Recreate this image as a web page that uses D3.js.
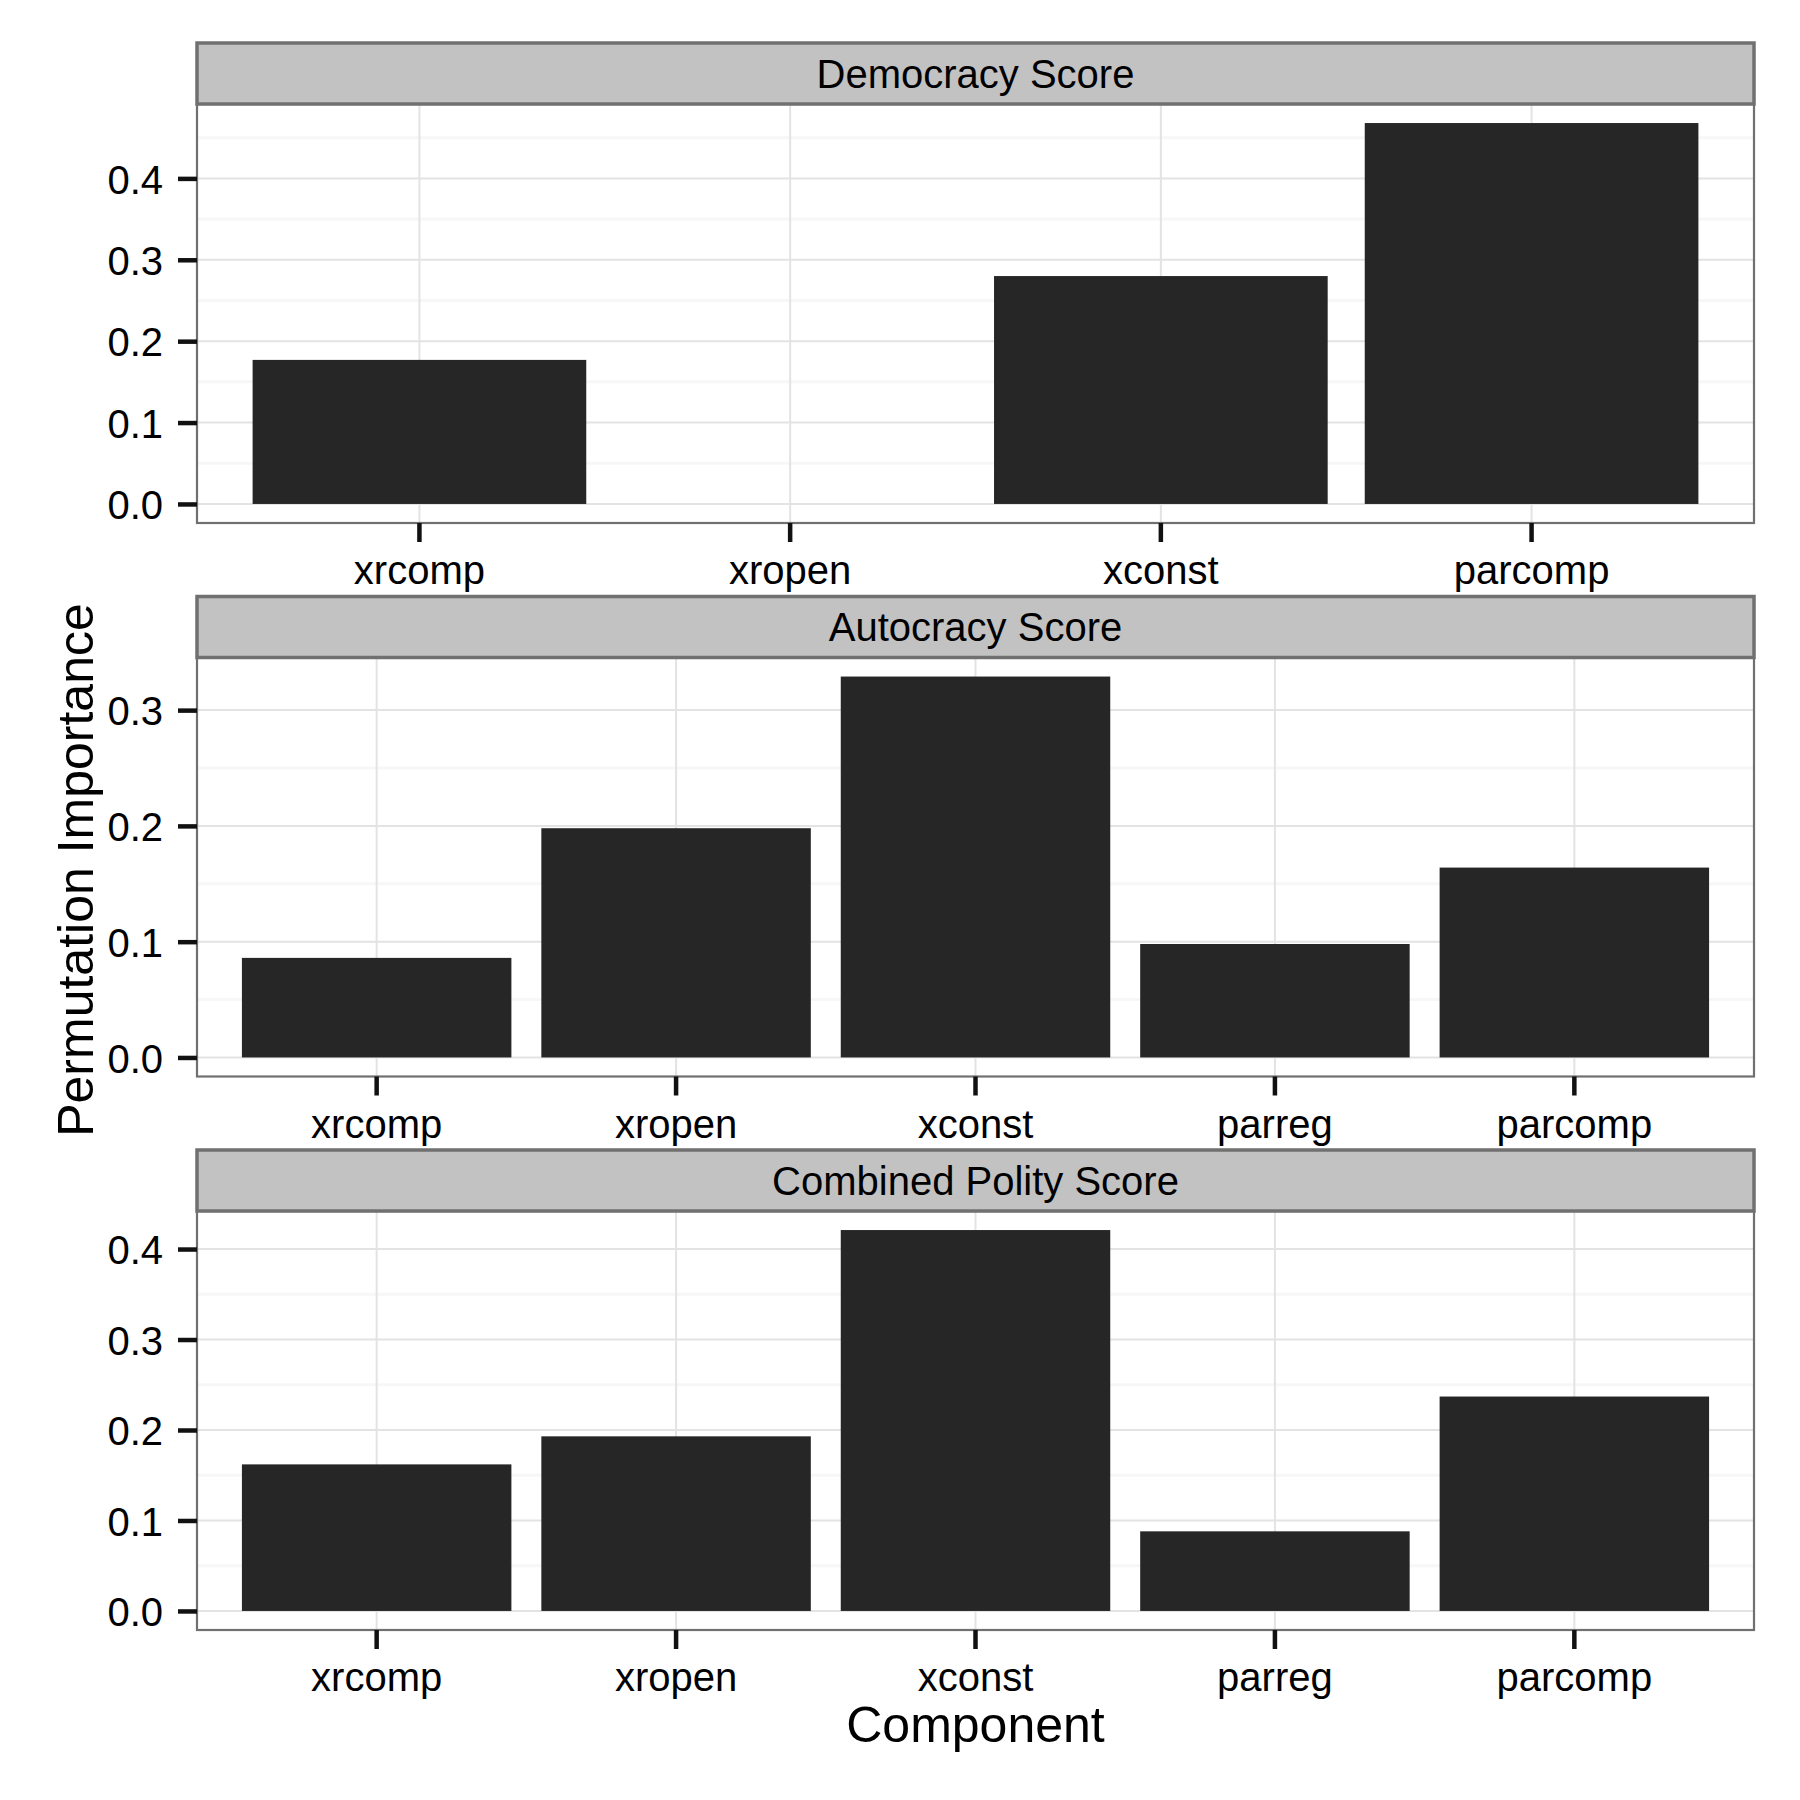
<!DOCTYPE html>
<html>
<head>
<meta charset="utf-8">
<script src="https://cdn.jsdelivr.net/npm/d3@7"></script>
<style>
    body { margin: 0; background: #fff; }
    text { font-family: "Liberation Sans", Arial, Helvetica, sans-serif; fill: #000; }
</style>
</head>
<body>
<div id="chart"></div>
<script>
// data
const panelTitles = ["Democracy Score", "Autocracy Score", "Combined Polity Score"];
const democracyComponents = ["xrcomp", "xropen", "xconst", "parcomp"];
const otherComponents = ["xrcomp", "xropen", "xconst", "parreg", "parcomp"];
const democracyValues = [0.177, 0, 0.280, 0.468];
const autocracyValues = [0.086, 0.198, 0.329, 0.098, 0.164];
const polityValues = [0.162, 0.193, 0.421, 0.088, 0.237];
const democracyTicks = [0, 0.1, 0.2, 0.3, 0.4];
const autocracyTicks = [0, 0.1, 0.2, 0.3];
const polityTicks = [0, 0.1, 0.2, 0.3, 0.4];

const panels = [
    { title: panelTitles[0], cats: democracyComponents, values: democracyValues, ticks: democracyTicks },
    { title: panelTitles[1], cats: otherComponents, values: autocracyValues, ticks: autocracyTicks },
    { title: panelTitles[2], cats: otherComponents, values: polityValues, ticks: polityTicks },
];

const W = 1800, H = 1800;
const left = 197, right = 1754;
const firstTop = 43, pitch = 553.5, stripH = 61, plotH = 419;

const svg = d3.select("#chart").append("svg")
    .attr("width", W)
    .attr("height", H);

svg.append("rect").attr("width", W).attr("height", H).attr("fill", "#fff");

panels.forEach((p, i) => {
    const top = firstTop + i * pitch;
    const plotTop = top + stripH;
    const plotBottom = plotTop + plotH;

    const maxV = d3.max(p.values);
    const y = d3.scaleLinear()
        .domain([-0.05 * maxV, maxV * 1.05])
        .range([plotBottom, plotTop]);

    const x = d3.scaleBand()
        .domain(p.cats)
        .range([left, right])
        .paddingInner(0.1)
        .paddingOuter(0.15);

    const g = svg.append("g").attr("class", `panel-${i}`);

    // minor grid (halfway between major breaks)
    const minor = p.ticks.map((t) => t + 0.05).filter((t) => t < y.domain()[1]);
    g.append("g")
        .selectAll("line")
        .data(minor)
        .join("line")
        .attr("x1", left).attr("x2", right)
        .attr("y1", (d) => y(d)).attr("y2", (d) => y(d))
        .attr("stroke", "#f7f7f7")
        .attr("stroke-width", 3);

    // major grid
    g.append("g")
        .selectAll("line")
        .data(p.ticks)
        .join("line")
        .attr("x1", left).attr("x2", right)
        .attr("y1", (d) => y(d)).attr("y2", (d) => y(d))
        .attr("stroke", "#e3e3e3")
        .attr("stroke-width", 2);

    g.append("g")
        .selectAll("line")
        .data(p.cats)
        .join("line")
        .attr("x1", (d) => x(d) + x.bandwidth() / 2)
        .attr("x2", (d) => x(d) + x.bandwidth() / 2)
        .attr("y1", plotTop).attr("y2", plotBottom)
        .attr("stroke", "#e3e3e3")
        .attr("stroke-width", 2);

    // bars
    g.append("g")
        .selectAll("rect")
        .data(p.values)
        .join("rect")
        .attr("x", (d, idx) => x(p.cats[idx]))
        .attr("width", x.bandwidth())
        .attr("y", (d) => y(d))
        .attr("height", (d) => y(0) - y(d))
        .attr("fill", "#262626");

    // panel border
    g.append("rect")
        .attr("x", left).attr("y", plotTop)
        .attr("width", right - left).attr("height", plotH)
        .attr("fill", "none")
        .attr("stroke", "#707070")
        .attr("stroke-width", 2.2);

    // strip
    g.append("rect")
        .attr("x", left).attr("y", top)
        .attr("width", right - left).attr("height", stripH)
        .attr("fill", "#c2c2c2")
        .attr("stroke", "#707070")
        .attr("stroke-width", 3.5);

    g.append("text")
        .attr("x", (left + right) / 2)
        .attr("y", top + stripH / 2)
        .attr("dy", "0.36em")
        .attr("text-anchor", "middle")
        .style("font-size", "40px")
        .text(p.title);

    // axes
    const yAxis = g.append("g")
        .attr("transform", `translate(${left},0)`)
        .call(d3.axisLeft(y).tickValues(p.ticks).tickFormat(d3.format(".1f"))
            .tickSize(19).tickPadding(15));
    yAxis.select(".domain").remove();
    yAxis.selectAll(".tick line").attr("stroke", "#111").attr("stroke-width", 4.5);
    yAxis.selectAll(".tick text")
        .attr("dy", "0.37em")
        .style("font-size", "40px")
        .style("font-family", "'Liberation Sans', Arial, sans-serif")
        .attr("fill", "#000");

    const xAxis = g.append("g")
        .attr("transform", `translate(0,${plotBottom})`)
        .call(d3.axisBottom(x).tickSize(19).tickPadding(14));
    xAxis.select(".domain").remove();
    xAxis.selectAll(".tick line").attr("stroke", "#111").attr("stroke-width", 4.5);
    xAxis.selectAll(".tick text")
        .style("font-size", "40px")
        .style("font-family", "'Liberation Sans', Arial, sans-serif")
        .attr("fill", "#000");
});

// axis titles
svg.append("text")
    .attr("transform", "translate(93,870) rotate(-90)")
    .attr("text-anchor", "middle")
    .style("font-size", "50px")
    .text("Permutation Importance");

svg.append("text")
    .attr("x", (left + right) / 2)
    .attr("y", 1742)
    .attr("text-anchor", "middle")
    .style("font-size", "50px")
    .text("Component");
</script>
</body>
</html>
